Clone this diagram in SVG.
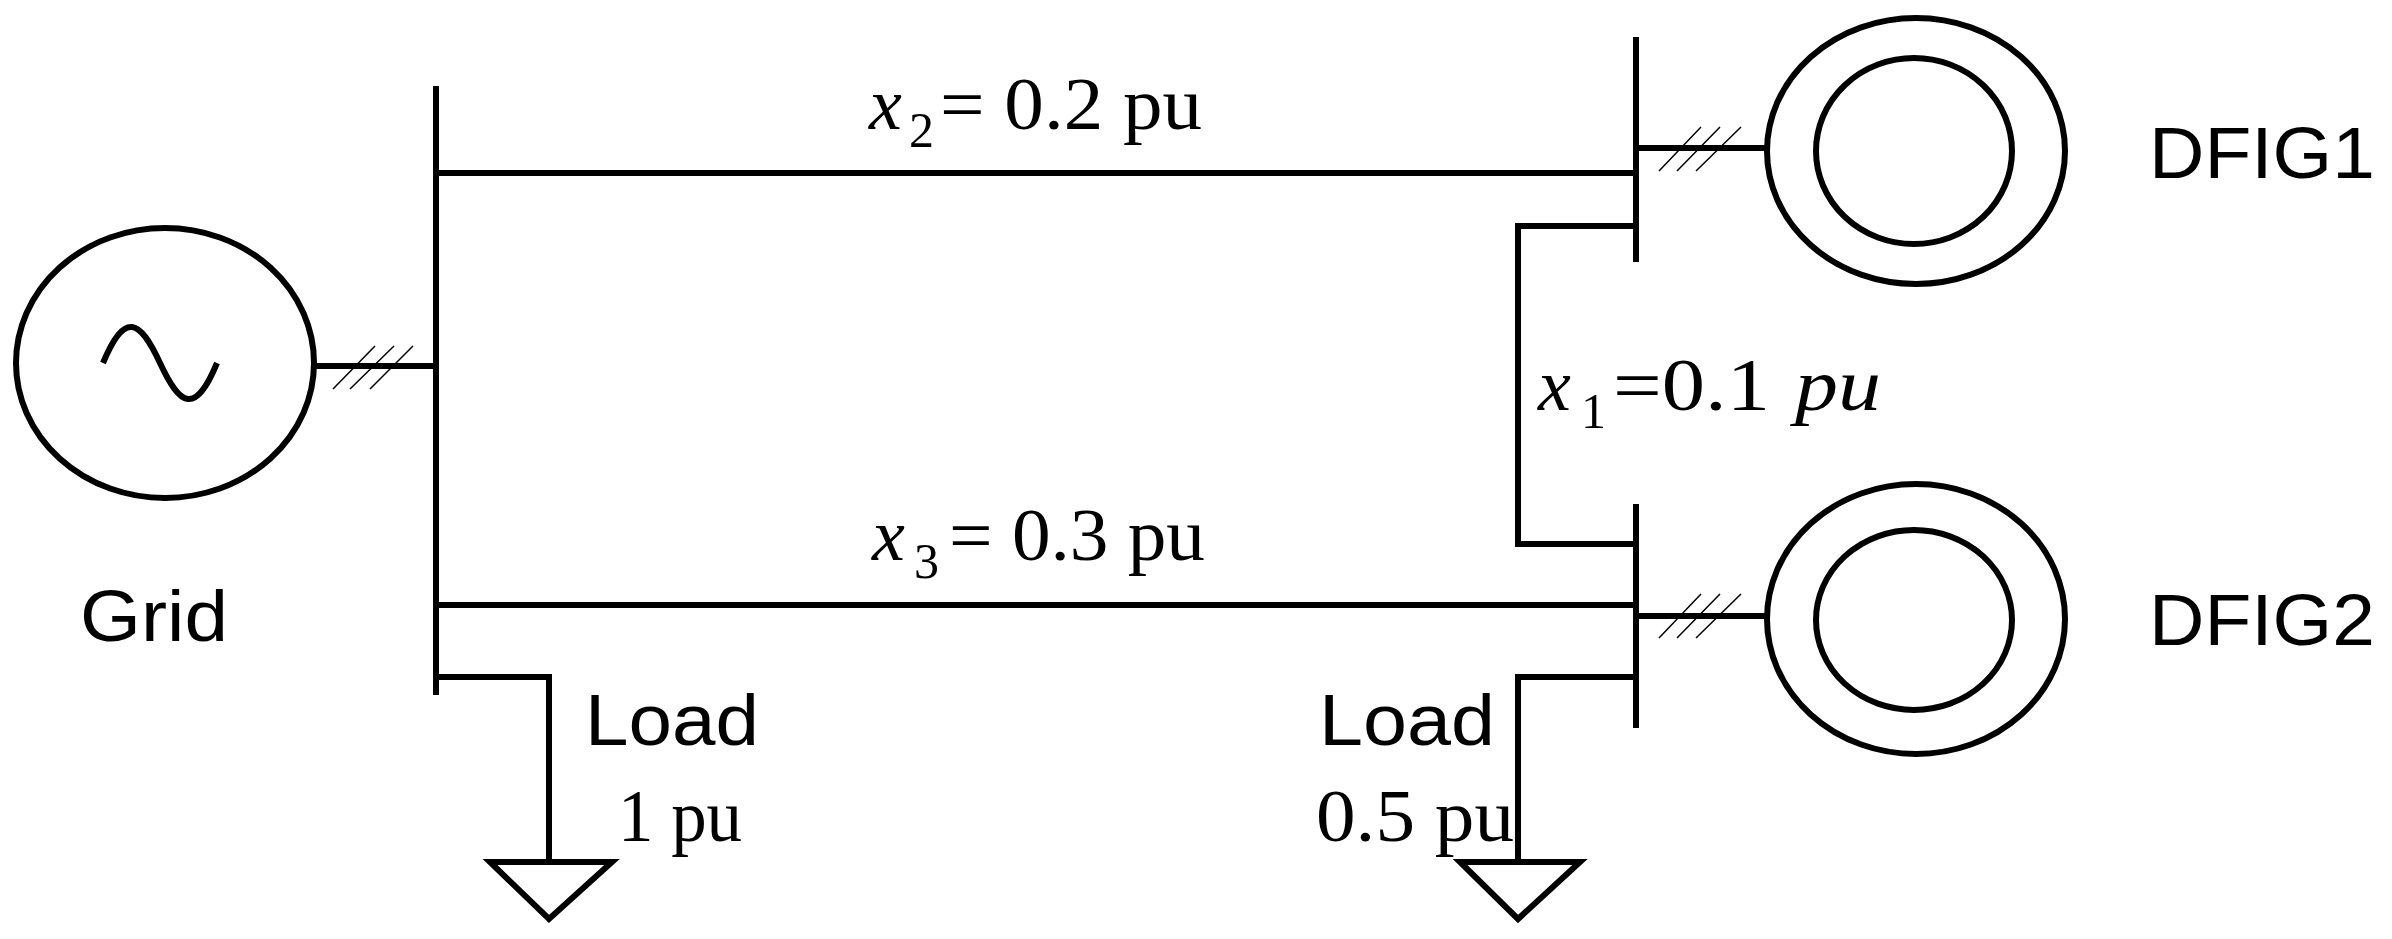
<svg xmlns="http://www.w3.org/2000/svg" width="2392" height="939" viewBox="0 0 2392 939">
<style>
.w{stroke:#000;stroke-width:6;fill:none}
.h{stroke:#000;stroke-width:1.5;fill:none}
.s{font-family:"Liberation Sans",Arial,sans-serif;font-size:72px}
.t{font-family:"Liberation Serif","Times New Roman",serif;font-size:74px}
.i{font-style:italic}
.sub{font-family:"Liberation Serif","Times New Roman",serif;font-size:50px}
</style>
<rect width="2392" height="939" fill="#fff"/>
<g id="grid">
<ellipse class="w" cx="165" cy="363" rx="149" ry="135"/>
<path class="w" d="M103,363 C125,310 140,320 160,363 S195,416 217,363"/>
<text class="s" x="80" y="641" textLength="148" lengthAdjust="spacingAndGlyphs">Grid</text>
</g>
<g id="bus1"><line class="w" x1="436" y1="86" x2="436" y2="695"/></g>
<g id="bus2"><line class="w" x1="1636" y1="37" x2="1636" y2="262"/></g>
<g id="bus3"><line class="w" x1="1636" y1="504" x2="1636" y2="728"/></g>
<g id="dfig1">
<ellipse class="w" cx="1916" cy="151" rx="149" ry="133"/>
<ellipse class="w" cx="1914" cy="151" rx="98" ry="93"/>
<text class="s" x="2149" y="178" textLength="226" lengthAdjust="spacingAndGlyphs">DFIG1</text>
</g>
<g id="dfig2">
<ellipse class="w" cx="1916" cy="619" rx="149" ry="135"/>
<ellipse class="w" cx="1914" cy="620" rx="98" ry="90"/>
<text class="s" x="2149" y="645" textLength="226" lengthAdjust="spacingAndGlyphs">DFIG2</text>
</g>
<g id="load1">
<polygon class="w" points="490,862 612,862 549,919"/>
<text class="s" x="585" y="745" textLength="174" lengthAdjust="spacingAndGlyphs">Load</text>
<text class="t" x="618" y="841" textLength="124" lengthAdjust="spacingAndGlyphs">1 pu</text>
</g>
<g id="load2">
<polygon class="w" points="1460,862 1580,862 1518,919"/>
<text class="s" x="1319" y="745" textLength="176" lengthAdjust="spacingAndGlyphs">Load</text>
<text class="t" x="1316" y="841" textLength="198" lengthAdjust="spacingAndGlyphs">0.5 pu</text>
</g>
<g id="connectors">
<line class="w" x1="314" y1="366" x2="436" y2="366"/>
<path class="h" d="M333,389 L375,346 M350,389 L394,346 M370,389 L413,346"/>
<line class="w" x1="436" y1="173" x2="1636" y2="173"/>
<line class="w" x1="436" y1="605" x2="1636" y2="605"/>
<polyline class="w" points="1636,226 1518,226 1518,544 1636,544"/>
<line class="w" x1="1636" y1="148" x2="1766" y2="148"/>
<path class="h" d="M1659,171 L1701,127 M1677,171 L1720,127 M1696,171 L1741,127"/>
<line class="w" x1="1636" y1="616" x2="1766" y2="616"/>
<path class="h" d="M1659,638 L1701,594 M1677,638 L1720,594 M1696,638 L1741,594"/>
<polyline class="w" points="436,677 549,677 549,862"/>
<polyline class="w" points="1636,677 1518,677 1518,862"/>
</g>
<g id="labels">
<text class="t i" x="869" y="129">x</text><text class="sub" x="909" y="147">2</text>
<text class="t" x="940" y="129" textLength="262" lengthAdjust="spacingAndGlyphs">= 0.2 pu</text>
<text class="t i" x="872" y="560">x</text><text class="sub" x="914" y="578">3</text>
<text class="t" x="949" y="560" textLength="256" lengthAdjust="spacingAndGlyphs">= 0.3 pu</text>
<text class="t i" x="1538" y="410">x</text><text class="sub" x="1581" y="428">1</text>
<text class="t" x="1613" y="410" textLength="157" lengthAdjust="spacingAndGlyphs">=0.1</text>
<text class="t i" x="1795" y="410" textLength="86" lengthAdjust="spacingAndGlyphs">pu</text>
</g>
</svg>
